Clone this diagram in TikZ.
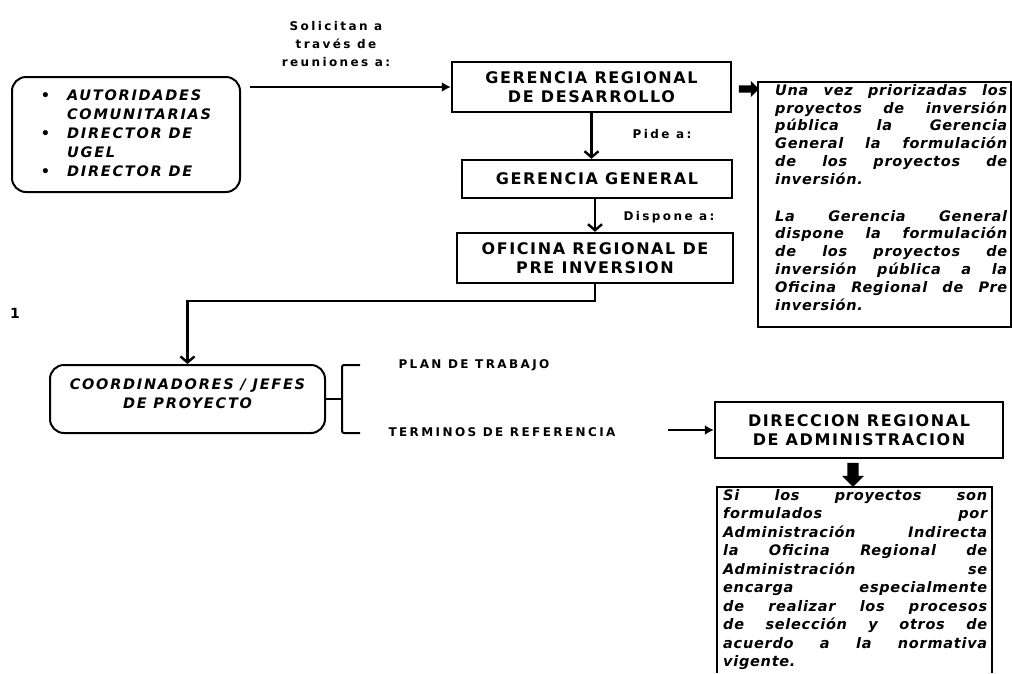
\documentclass[tikz,border=0pt]{standalone}
\usepackage{fontspec}
\setmainfont{DejaVu Sans}
\newfontfamily\hdfont[LetterSpace=10]{DejaVu Sans}
\newfontfamily\itfont[LetterSpace=12]{DejaVu Sans}
\newfontfamily\lblfont[LetterSpace=20]{DejaVu Sans}
\newfontfamily\notefont[LetterSpace=5]{DejaVu Sans}
\usetikzlibrary{arrows.meta,shapes.arrows}
\newcommand{\jl}[1]{\hbox to\hsize{\spaceskip=.3em plus 1fil\relax#1}}

\begin{document}
\begin{tikzpicture}[x=1pt,y=-1pt,
  box/.style={draw, line width=2.4pt, align=center, inner sep=2pt,
              font=\hdfont\fontsize{16}{19}\selectfont\bfseries},
  rbox/.style={draw, line width=2pt, rounded corners=14pt, align=left,
               font=\itfont\fontsize{14.5}{19}\selectfont\bfseries\itshape},
  frame/.style={draw, line width=2.2pt},
  notetxt/.style={inner sep=0pt, align=left,
                  font=\notefont\fontsize{14.5}{17.8}\selectfont\bfseries\itshape},
  lbl/.style={font=\lblfont\fontsize{12}{18}\selectfont\bfseries, align=center},
  conn/.style={line width=2.4pt, -{Latex[length=9pt,width=10pt]}},
  down/.style={line width=2.4pt, -{Straight Barb[length=6pt,width=14pt,line width=2.4pt]}},
  fatarrow/.style={single arrow, fill=black, draw=none, inner sep=4pt,
                   minimum width=18pt, single arrow head extend=4pt}]

\useasboundingbox (0,0) rectangle (1012,673);

% cajas principales
\node[rbox, minimum width=228pt, minimum height=115pt] (actores) at (126,134.5)
  {\begin{tabular}{@{}l@{\hspace{17pt}}l@{}}
   \textbullet & AUTORIDADES\\
               & COMUNITARIAS\\
   \textbullet & DIRECTOR DE\\
               & UGEL\\
   \textbullet & DIRECTOR DE
   \end{tabular}};
\node[box, minimum width=279pt, minimum height=50pt] (grd) at (591.5,87)
  {GERENCIA REGIONAL\\DE DESARROLLO};
\node[box, minimum width=270pt, minimum height=38pt] (gg) at (597,179)
  {GERENCIA GENERAL};
\node[box, minimum width=276pt, minimum height=50pt] (orpi) at (595,258)
  {OFICINA REGIONAL DE\\PRE INVERSION};
\node[rbox, align=center, minimum width=275pt, minimum height=68pt] (coord) at (187.5,399)
  {COORDINADORES / JEFES\\DE PROYECTO\\[-8pt]};
\node[box, minimum width=288pt, minimum height=56pt] (dra) at (859,430)
  {DIRECCION REGIONAL\\DE ADMINISTRACION};

% etiquetas
\node[lbl] (solicitan) at (336,44) {Solicitan a\\través de\\reuniones a:};
\node[lbl] (pide) at (662,134) {Pide a:};
\node[lbl] (dispone) at (669,217) {Dispone a:};
\node[lbl, anchor=west] (plan) at (395,365) {PLAN DE TRABAJO};
\node[lbl, anchor=west] (terminos) at (385,432) {TERMINOS DE REFERENCIA};
\node[font=\fontsize{14}{16}\selectfont\bfseries] (uno) at (15,313) {1};

% nota derecha
\node[frame, minimum width=253pt, minimum height=245pt] (nota1) at (884.5,204.5) {};
\node[notetxt, text width=232pt, anchor=north west] (txt1) at (775,84)
  {\jl{Una vez priorizadas los}
   \jl{proyectos de inversión}
   \jl{pública la Gerencia}
   \jl{General la formulación}
   \jl{de los proyectos de}
   inversión.\\[19pt]
   \jl{La Gerencia General}
   \jl{dispone la formulación}
   \jl{de los proyectos de}
   \jl{inversión pública a la}
   \jl{Oficina Regional de Pre}
   inversión.};
\node[fatarrow, inner sep=3pt, minimum width=16pt, minimum height=20pt] (flecha1) at (747,89) {};

% nota inferior
\draw[frame] (717,673) |- (992,487) -- (992,673);
\node[notetxt, text width=264pt, anchor=north west,
      font=\notefont\fontsize{14.5}{18.5}\selectfont\bfseries\itshape] (txt2) at (723,489)
  {\jl{Si los proyectos son}
   \jl{formulados por}
   \jl{Administración Indirecta}
   \jl{la Oficina Regional de}
   \jl{Administración se}
   \jl{encarga especialmente}
   \jl{de realizar los procesos}
   \jl{de selección y otros de}
   \jl{acuerdo a la normativa}
   vigente.};
\node[fatarrow, minimum width=22pt, minimum height=24pt, shape border rotate=270] (flecha2) at (853,472) {};

% conectores
\draw[conn] ([xshift=9pt]actores.east |- grd.west) -- (grd.west);
\draw[down] (grd.south) -- (grd.south |- gg.north);
\draw[down] ([xshift=-2pt]gg.south) -- ([xshift=-2pt]gg.south |- orpi.north);
\draw[down] (orpi.south) -- ++(0,17) -| (coord.north);
\draw[line width=2pt] (coord.east) -- (342,399);
\draw[line width=2pt, rounded corners=2pt] (360,365) -- (342,365) -- (342,433) -- (360,433);
\coordinate (tref) at (668,430);
\draw[conn] (tref) -- (dra.west);
\end{tikzpicture}
\end{document}
